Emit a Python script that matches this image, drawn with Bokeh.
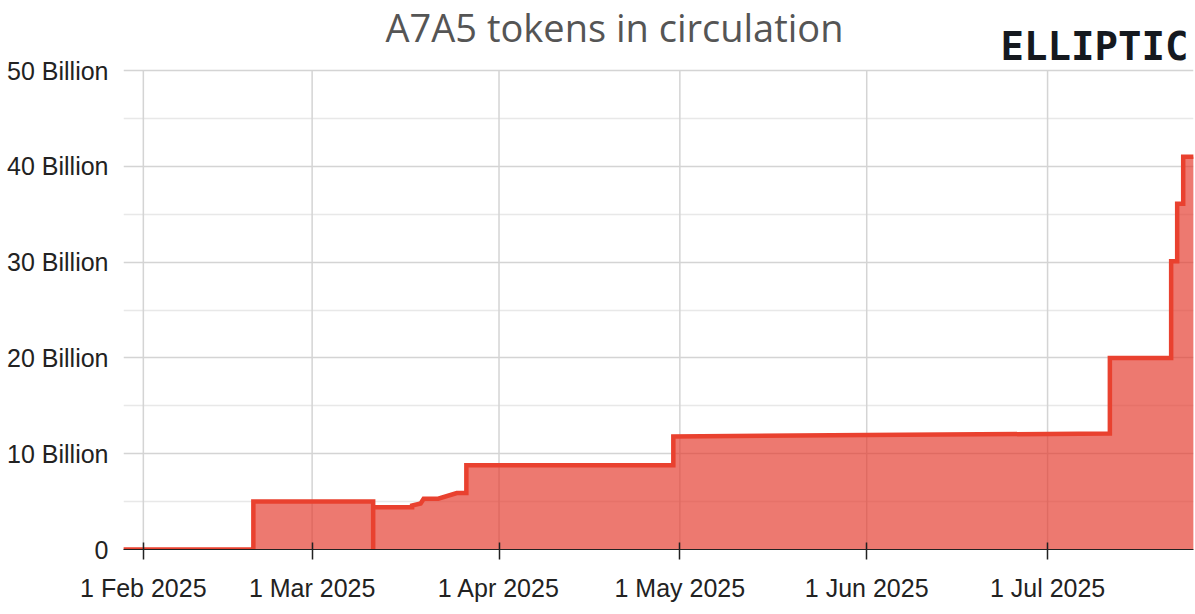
from datetime import datetime
from bokeh.plotting import figure
from bokeh.models import Range1d, FixedTicker, Label
from bokeh.embed import file_html
from bokeh.resources import INLINE

# ---- data (values in billions of tokens) ----
dates = [
    "2025-01-28 16:00", "2025-02-19 06:00", "2025-02-19 06:00",
    "2025-03-11 03:00", "2025-03-11 03:00", "2025-03-11 03:00",
    "2025-03-17 14:00", "2025-03-17 14:00", "2025-03-19 00:00",
    "2025-03-19 12:00", "2025-03-21 22:00", "2025-03-25 00:00",
    "2025-03-26 14:00", "2025-03-26 14:00", "2025-04-29 22:00",
    "2025-04-29 22:00", "2025-06-01 00:00", "2025-07-11 08:00",
    "2025-07-11 08:00", "2025-07-21 12:00", "2025-07-21 12:00",
    "2025-07-22 12:00", "2025-07-22 12:00", "2025-07-23 12:00",
    "2025-07-23 12:00", "2025-07-25 06:00",
]
supply = [
    0.0, 0.0, 5.0,
    5.0, 0.0, 4.4,
    4.4, 4.6, 4.8,
    5.3, 5.3, 5.9,
    5.9, 8.8, 8.8,
    11.8, 11.95, 12.1,
    20.0, 20.0, 30.1,
    30.1, 36.1, 36.1,
    41.0, 41.0,
]
y_ticks = [0, 10, 20, 30, 40, 50]
y_minor = [5, 15, 25, 35, 45]
y_labels = ["0", "10 Billion", "20 Billion", "30 Billion", "40 Billion", "50 Billion"]
x_ticks = ["2025-02-01", "2025-03-01", "2025-04-01", "2025-05-01", "2025-06-01", "2025-07-01"]
x_labels = ["1 Feb 2025", "1 Mar 2025", "1 Apr 2025", "1 May 2025", "1 Jun 2025", "1 Jul 2025"]
title_text = "A7A5 tokens in circulation"
logo_text = "ELLIPTIC"

# ---- conversion ----
fmt = "%Y-%m-%d %H:%M"
xs = [datetime.strptime(d, fmt) for d in dates]
x_tick_dt = [datetime.strptime(d, "%Y-%m-%d") for d in x_ticks]
x_tick_ms = [d.timestamp() * 1000 for d in x_tick_dt]

x_start = datetime(2025, 1, 28, 17, 0)
x_end = datetime(2025, 7, 25, 5, 0)
y_top = max(y_ticks)
# frame extends above the top gridline to hold the title and logo
y_end = y_top * 549 / 479

p = figure(
    width=1195, height=614,
    x_axis_type="datetime",
    x_range=Range1d(x_start, x_end),
    y_range=Range1d(0, y_end),
    output_backend="svg", toolbar_location=None,
    min_border_left=123, min_border_right=2,
    min_border_top=0, min_border_bottom=65,
)
p.outline_line_color = None
p.background_fill_color = "white"
p.border_fill_color = "white"

# vertical grid lines (only up to the top gridline)
p.xgrid.grid_line_color = None
p.segment(x0=x_tick_dt, y0=[0] * len(x_tick_dt), x1=x_tick_dt, y1=[y_top] * len(x_tick_dt),
          line_color="#d4d4d4", line_width=1.5)

# fill + line
p.varea(x=xs, y1=0, y2=supply, fill_color="#e53a2c", fill_alpha=0.68)
p.line(x=xs, y=supply, line_color="#e9412f", line_width=4.5, line_join="miter")

# y axis
p.yaxis.ticker = FixedTicker(ticks=y_ticks, minor_ticks=y_minor)
p.yaxis.major_label_overrides = {t: l for t, l in zip(y_ticks, y_labels)}
p.yaxis.axis_line_color = None
p.yaxis.major_tick_line_color = None
p.yaxis.minor_tick_line_color = None
p.yaxis.major_label_text_font = "Liberation Sans"
p.yaxis.major_label_text_font_size = "25px"
p.yaxis.major_label_text_color = "#222222"
p.yaxis.major_label_standoff = 9

p.ygrid.grid_line_color = "#d4d4d4"
p.ygrid.grid_line_width = 1.5
p.ygrid.minor_grid_line_color = "#e8e8e8"
p.ygrid.minor_grid_line_width = 1.5

# x axis
p.xaxis.ticker = FixedTicker(ticks=x_tick_ms)
p.xaxis.major_label_overrides = {t: l for t, l in zip(x_tick_ms, x_labels)}
p.xaxis.axis_line_color = "#222222"
p.xaxis.axis_line_width = 1.2
p.xaxis.major_tick_line_color = "#222222"
p.xaxis.major_tick_line_width = 1.5
p.xaxis.major_tick_in = 7
p.xaxis.major_tick_out = 10
p.xaxis.minor_tick_line_color = None
p.xaxis.major_label_text_font = "Liberation Sans"
p.xaxis.major_label_text_font_size = "25px"
p.xaxis.major_label_text_color = "#222222"
p.xaxis.major_label_standoff = 14

# title and logo
p.add_layout(Label(x=datetime(2025, 4, 20, 4, 0), y=54.5, text=title_text,
                   text_font="Open Sans", text_font_size="38px", text_color="#555555",
                   text_align="center", text_baseline="middle"))
p.add_layout(Label(x=datetime(2025, 7, 8, 19, 0), y=52.5, text=logo_text,
                   text_font="DejaVu Sans Mono", text_font_style="bold", text_font_size="39px",
                   text_color="#15191f", text_align="center", text_baseline="middle"))

open("out.html", "w").write(file_html(p, INLINE))
